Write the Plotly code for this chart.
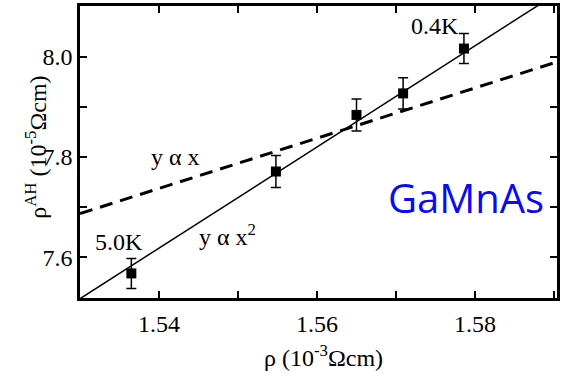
import plotly.graph_objects as go

# Data
rho = [1.5365, 1.5548, 1.5650, 1.5709, 1.5786]          # 10^-3 Ohm cm
rho_ah = [7.5675, 7.771, 7.884, 7.927, 8.0165]          # 10^-5 Ohm cm
rho_ah_err = [0.030, 0.032, 0.032, 0.031, 0.030]

# Fit lines (endpoints)
fit_sq_x = [1.530, 1.5904]      # y ~ x^2 (solid)
fit_sq_y = [7.517, 8.127]
fit_lin_x = [1.530, 1.5904]     # y ~ x (dashed)
fit_lin_y = [7.687, 7.990]

x_tickvals = [1.53, 1.54, 1.55, 1.56, 1.57, 1.58, 1.59]
x_ticktext = ["", "1.54", "", "1.56", "", "1.58", ""]
y_tickvals = [7.6, 7.7, 7.8, 7.9, 8.0]
y_ticktext = ["7.6", "", "7.8", "", "8.0"]

serif = "Liberation Serif"

fig = go.Figure()
fig.add_trace(go.Scatter(x=fit_lin_x, y=fit_lin_y, mode="lines",
                         line=dict(color="black", width=3, dash="13px,8px"),
                         showlegend=False, hoverinfo="skip"))
fig.add_trace(go.Scatter(x=fit_sq_x, y=fit_sq_y, mode="lines",
                         line=dict(color="black", width=1.5),
                         showlegend=False, hoverinfo="skip"))
fig.add_trace(go.Scatter(x=rho, y=rho_ah, mode="markers",
                         marker=dict(symbol="square", size=10, color="black"),
                         error_y=dict(type="data", array=rho_ah_err, visible=True,
                                      color="black", thickness=1.5, width=5),
                         showlegend=False))

ann_font = dict(family=serif, size=24, color="black")
fig.add_annotation(x=1.5749, y=8.0617, text="0.4K", showarrow=False, font=ann_font)
fig.add_annotation(x=1.53497, y=7.6305, text="5.0K", showarrow=False, font=ann_font)
fig.add_annotation(x=1.54214, y=7.7996, text="y α x", showarrow=False, font=ann_font)
fig.add_annotation(x=1.54862, y=7.6440, text="y α x<sup>2</sup>", showarrow=False, font=ann_font)
fig.add_annotation(x=1.5788, y=7.7194, text="GaMnAs", showarrow=False,
                   font=dict(family="Open Sans", size=40, color="#0a0af5"))

# axis titles
fig.add_annotation(xref="paper", yref="paper", x=0.5104, y=-0.198, yanchor="middle",
                   text="ρ (10<sup>-3</sup>Ωcm)", showarrow=False,
                   font=dict(family=serif, size=24, color="black"))
fig.add_annotation(xref="paper", yref="paper", x=-0.094, y=0.515, xanchor="center",
                   yanchor="middle", textangle=-90,
                   text="ρ<sup>AH</sup> (10<sup>-5</sup>Ωcm)", showarrow=False,
                   font=dict(family=serif, size=24, color="black"))

axis_common = dict(showline=True, mirror="allticks", linecolor="black", linewidth=2.5,
                   ticks="inside", ticklen=7, tickwidth=2, tickcolor="black",
                   showgrid=False, zeroline=False,
                   tickfont=dict(family=serif, size=24, color="black"))

fig.update_xaxes(range=[1.530, 1.59038], tickmode="array", tickvals=x_tickvals,
                 ticktext=x_ticktext, ticklabelstandoff=2, **axis_common)
fig.update_yaxes(range=[7.5184, 8.1015], tickmode="array", tickvals=y_tickvals,
                 ticktext=y_ticktext, ticklabelstandoff=0, **axis_common)

fig.update_layout(width=563, height=376, margin=dict(l=80, r=3, t=5, b=78),
                  plot_bgcolor="white", paper_bgcolor="white")

fig.write_html("out.html")
